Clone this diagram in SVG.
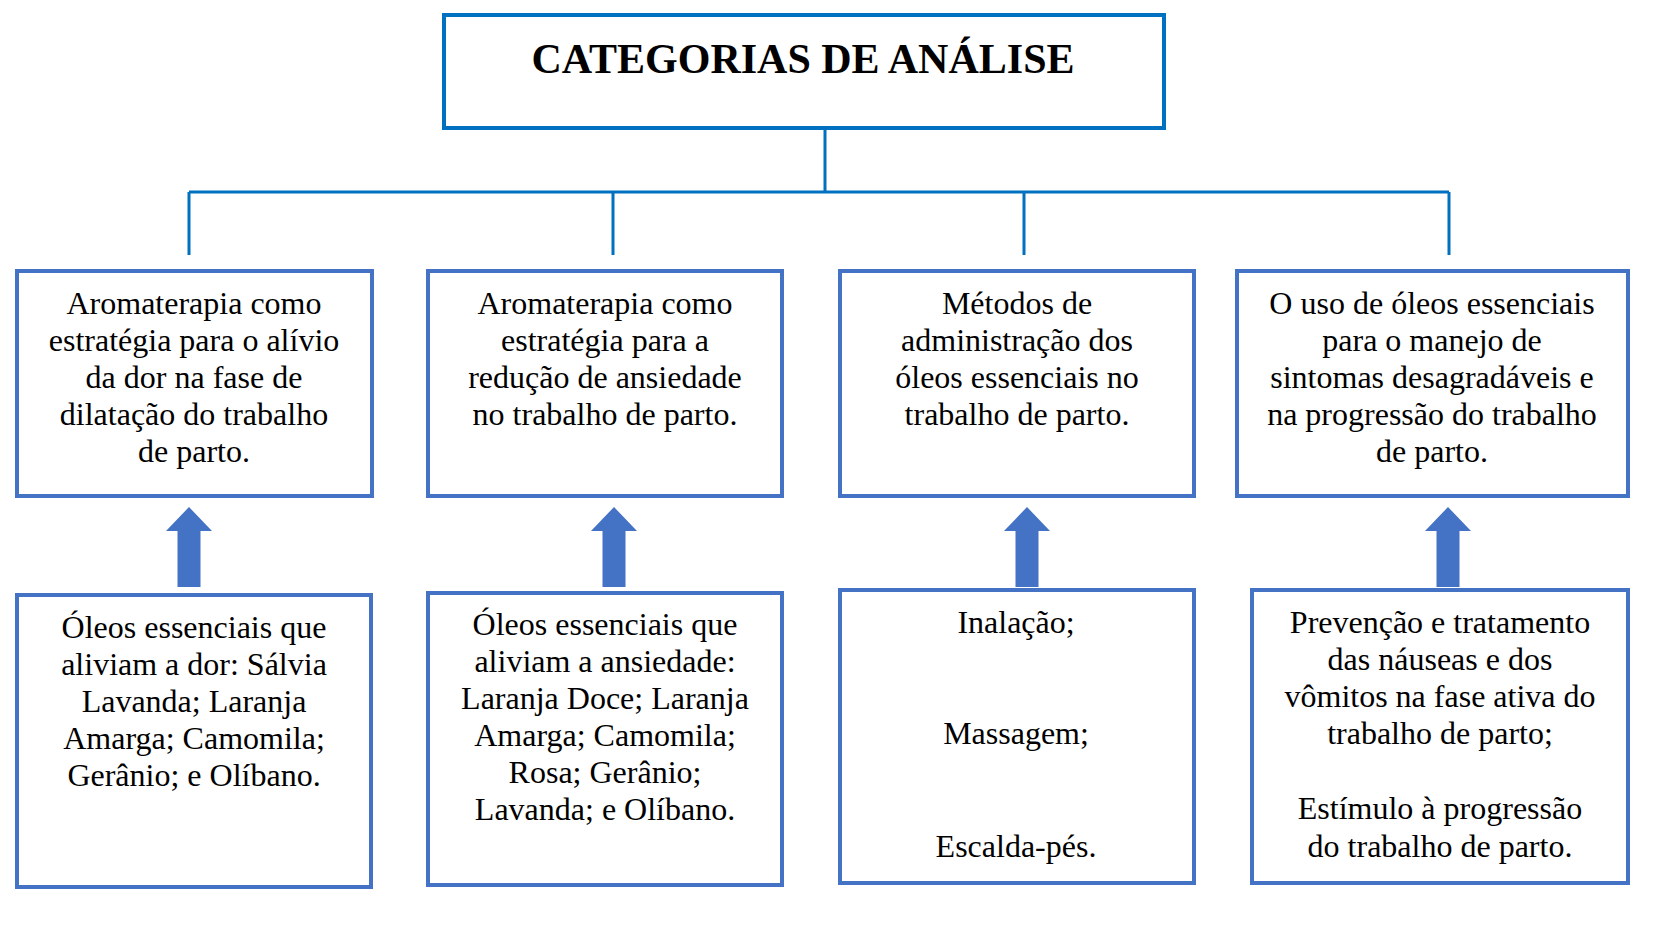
<svg xmlns="http://www.w3.org/2000/svg" xmlns:xlink="http://www.w3.org/1999/xlink" width="1667" height="925" viewBox="0 0 1667 925">
<style>
.top{fill:#fff;stroke:#0070C0;stroke-width:4}
.box{fill:#fff;stroke:#4472C4;stroke-width:4}
.conn{stroke:#0070C0;stroke-width:3;fill:none}
.t{font-size:32px;fill:#000;text-anchor:middle}
.title{font-size:42px;font-weight:bold;fill:#000;text-anchor:middle}
.arr{fill:#4472C4}
</style>
<defs>
<path id="arrow" class="arr" d="M0,507 L23,531 L11.5,531 L11.5,587 L-11.5,587 L-11.5,531 L-23,531 Z"/>
</defs>
<rect width="1667" height="925" fill="#fff"/>
<g id="connectors">
<path class="conn" d="M825,128 V192 M189,192 H1449 M189,192 V255 M613,192 V255 M1024,192 V255 M1449,192 V255"/>
<use xlink:href="#arrow" transform="translate(189,0)"/>
<use xlink:href="#arrow" transform="translate(614,0)"/>
<use xlink:href="#arrow" transform="translate(1027,0)"/>
<use xlink:href="#arrow" transform="translate(1448,0)"/>
</g>
<g id="title">
<rect class="top" x="444" y="15" width="720" height="113"/>
<text class="title" font-family="Liberation Serif, serif" x="803" y="73">CATEGORIAS DE ANÁLISE</text>
</g>
<g id="cat1">
<rect class="box" x="17" y="271" width="355" height="225"/>
<text class="t" font-family="Liberation Serif, serif"><tspan x="194" y="314">Aromaterapia como</tspan><tspan x="194" y="351">estratégia para o alívio</tspan><tspan x="194" y="388">da dor na fase de</tspan><tspan x="194" y="425">dilatação do trabalho</tspan><tspan x="194" y="462">de parto.</tspan></text>
</g>
<g id="cat2">
<rect class="box" x="428" y="271" width="354" height="225"/>
<text class="t" font-family="Liberation Serif, serif"><tspan x="605" y="314">Aromaterapia como</tspan><tspan x="605" y="351">estratégia para a</tspan><tspan x="605" y="388">redução de ansiedade</tspan><tspan x="605" y="425">no trabalho de parto.</tspan></text>
</g>
<g id="cat3">
<rect class="box" x="840" y="271" width="354" height="225"/>
<text class="t" font-family="Liberation Serif, serif"><tspan x="1017" y="314">Métodos de</tspan><tspan x="1017" y="351">administração dos</tspan><tspan x="1017" y="388">óleos essenciais no</tspan><tspan x="1017" y="425">trabalho de parto.</tspan></text>
</g>
<g id="cat4">
<rect class="box" x="1237" y="271" width="391" height="225"/>
<text class="t" font-family="Liberation Serif, serif"><tspan x="1432" y="314">O uso de óleos essenciais</tspan><tspan x="1432" y="351">para o manejo de</tspan><tspan x="1432" y="388">sintomas desagradáveis e</tspan><tspan x="1432" y="425">na progressão do trabalho</tspan><tspan x="1432" y="462">de parto.</tspan></text>
</g>
<g id="det1">
<rect class="box" x="17" y="595" width="354" height="292"/>
<text class="t" font-family="Liberation Serif, serif"><tspan x="194" y="638">Óleos essenciais que</tspan><tspan x="194" y="675">aliviam a dor: Sálvia</tspan><tspan x="194" y="712">Lavanda; Laranja</tspan><tspan x="194" y="749">Amarga; Camomila;</tspan><tspan x="194" y="786">Gerânio; e Olíbano.</tspan></text>
</g>
<g id="det2">
<rect class="box" x="428" y="593" width="354" height="292"/>
<text class="t" font-family="Liberation Serif, serif"><tspan x="605" y="635">Óleos essenciais que</tspan><tspan x="605" y="672">aliviam a ansiedade:</tspan><tspan x="605" y="709">Laranja Doce; Laranja</tspan><tspan x="605" y="746">Amarga; Camomila;</tspan><tspan x="605" y="783">Rosa; Gerânio;</tspan><tspan x="605" y="820">Lavanda; e Olíbano.</tspan></text>
</g>
<g id="det3">
<rect class="box" x="840" y="590" width="354" height="293"/>
<text class="t" font-family="Liberation Serif, serif"><tspan x="1016" y="633">Inalação;</tspan><tspan x="1016" y="744">Massagem;</tspan><tspan x="1016" y="857">Escalda-pés.</tspan></text>
</g>
<g id="det4">
<rect class="box" x="1252" y="590" width="376" height="293"/>
<text class="t" font-family="Liberation Serif, serif"><tspan x="1440" y="633">Prevenção e tratamento</tspan><tspan x="1440" y="670">das náuseas e dos</tspan><tspan x="1440" y="707">vômitos na fase ativa do</tspan><tspan x="1440" y="744">trabalho de parto;</tspan><tspan x="1440" y="819">Estímulo à progressão</tspan><tspan x="1440" y="857">do trabalho de parto.</tspan></text>
</g>
</svg>
